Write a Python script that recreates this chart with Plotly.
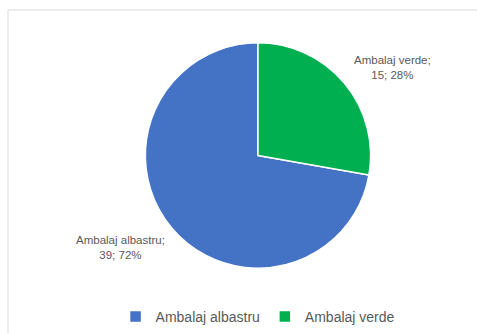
import plotly.graph_objects as go

labels = ["Ambalaj albastru", "Ambalaj verde"]
values = [39, 15]
percents = ["72%", "28%"]
colors = ["#4472C4", "#00B050"]

W, H = 477, 333
# start the blue slice where the green one (which starts at 12 o'clock) ends
start_angle = 360 * values[1] / sum(values)

fig = go.Figure()
fig.add_trace(go.Pie(
    labels=labels, values=values, sort=False, direction="clockwise",
    rotation=start_angle, marker=dict(colors=colors, line=dict(color="white", width=1.5)),
    textinfo="none", hoverinfo="label+value+percent",
    domain=dict(x=[(258 - 113) / W, (258 + 113) / W], y=[1 - 269 / H, 1 - 43 / H]),
))

# data labels
label_pos = {"Ambalaj albastru": (121 / W, 1 - 248 / H), "Ambalaj verde": (392 / W, 1 - 68 / H)}
for lab, val, pct in zip(labels, values, percents):
    x, y = label_pos[lab]
    fig.add_annotation(x=x, y=y, xref="paper", yref="paper", showarrow=False,
                       xanchor="center", yanchor="middle",
                       text=f"{lab};<br>{val}; {pct}", align="center",
                       font=dict(family="Liberation Sans, Arial", size=11.5, color="#595959"))

fig.add_shape(type="rect", xref="paper", yref="paper",
              x0=8 / W, x1=1.05, y0=-0.05, y1=1 - 10 / H,
              line=dict(color="#D9D9D9", width=1), fillcolor="rgba(0,0,0,0)")

fig.update_layout(
    width=W, height=H, margin=dict(l=0, r=0, t=0, b=0),
    paper_bgcolor="white", plot_bgcolor="white",
    showlegend=True,
    legend=dict(orientation="h", x=0.54, xanchor="center", y=1 - 318 / H, yanchor="middle",
                font=dict(family="Liberation Sans, Arial", size=14, color="#595959"),
                itemwidth=30, tracegroupgap=0),
)
fig.write_html("out.html")
